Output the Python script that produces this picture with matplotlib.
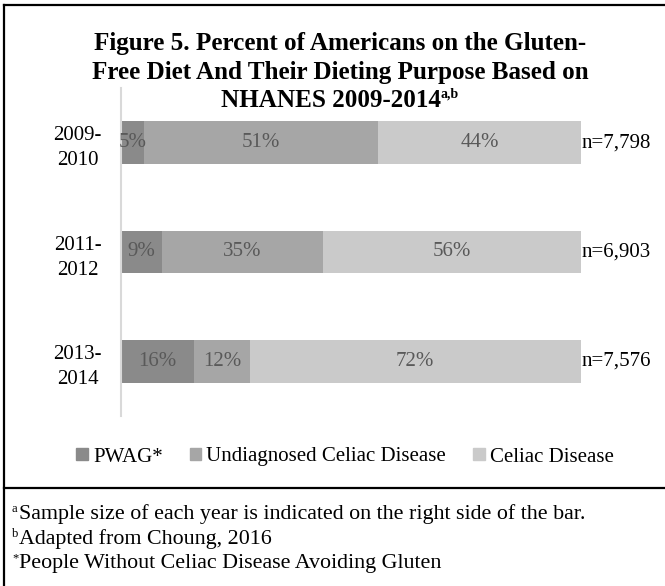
import numpy as np
import matplotlib as mpl
mpl.use('agg')
import matplotlib.pyplot as plt
from matplotlib.patches import Patch
from matplotlib.lines import Line2D

## data
years = ['2009-\n2010', '2011-\n2012', '2013-\n2014']
pwag = [5, 9, 16]
undiagnosed = [51, 35, 12]
celiac = [44, 56, 72]
sample_n = ['n=7,798', 'n=6,903', 'n=7,576']
series_names = ['PWAG*', 'Undiagnosed Celiac Disease', 'Celiac Disease']
colors = ['#8a8a8a', '#a6a6a6', '#cacaca']

title_lines = ['Figure 5. Percent of Americans on the Gluten-',
               'Free Diet And Their Dieting Purpose Based on',
               'NHANES 2009-2014']
title_sup = 'a,b'
notes = [('a', 'Sample size of each year is indicated on the right side of the bar.'),
         ('b', 'Adapted from Choung, 2016'),
         ('*', 'People Without Celiac Disease Avoiding Gluten')]

W, H = 665, 586
plt.rcParams['font.family'] = ['Liberation Serif', 'DejaVu Serif']

fig = plt.figure(figsize=(W / 100, H / 100), dpi=100)


def fx(px):
    return px / W


def fy(py):
    return 1 - py / H


ax = fig.add_axes([fx(120.7), fy(416), fx(580.7) - fx(120.7), fy(88) - fy(416)])

y = np.arange(len(years))
left = np.zeros(len(years))
for vals, name, c in zip([pwag, undiagnosed, celiac], series_names, colors):
    ax.barh(y, vals, left=left, height=0.39, color=c, label=name)
    for yi, l, v in zip(y, left, vals):
        ax.text(l + v / 2, yi, f'{v}%', ha='center', va='center',
                fontsize=15, color='#595959')
    left += np.array(vals)

for yi, tot, n in zip(y, left, sample_n):
    ax.text(tot + 0.2, yi, n, ha='left', va='center', fontsize=15)

ax.set_xlim(0, 100)
ax.set_ylim(2.5, -0.5)
ax.set_yticks(y)
ax.set_yticklabels(years, fontsize=15, multialignment='center', linespacing=1.45)
ax.tick_params(axis='y', length=0, pad=13.5)
ax.set_xticks([])
for s in ['top', 'right', 'bottom']:
    ax.spines[s].set_visible(False)
ax.spines['left'].set_color('#d9d9d9')
ax.spines['left'].set_linewidth(1.5)

# legend
handles = [Patch(color=c, label=n) for c, n in zip(colors, series_names)]
fig.legend(handles=handles, loc='center', bbox_to_anchor=(fx(345), fy(457)),
           ncol=3, frameon=False, fontsize=15, handlelength=0.55, handleheight=0.55,
           handletextpad=0.25, columnspacing=1.3, borderaxespad=0, borderpad=0)

# title
renderer = fig.canvas.get_renderer()
baselines = [50, 78.5, 107]
for line, b in zip(title_lines[:2], baselines[:2]):
    fig.text(fx(340), fy(b), line, ha='center', va='baseline',
             fontsize=18.1, fontweight='bold')
t3 = fig.text(0, fy(baselines[2]), title_lines[2], ha='left', va='baseline',
              fontsize=18.1, fontweight='bold')
s3 = fig.text(0, fy(baselines[2] - 9), title_sup, ha='left', va='baseline',
              fontsize=10, fontweight='bold')
w3 = t3.get_window_extent(renderer).width
ws = s3.get_window_extent(renderer).width
x0 = 340 - (w3 + ws) / 2
t3.set_x(fx(x0))
s3.set_x(fx(x0 + w3))

# footnotes
for (sup, txt), b in zip(notes, [519, 544, 568]):
    fig.text(fx(12), fy(b - 7), sup, ha='left', va='baseline', fontsize=9)
    fig.text(fx(19), fy(b), txt, ha='left', va='baseline', fontsize=15.8)

# frame lines
fig.add_artist(Line2D([fx(3.5), fx(3.5)], [fy(4.5), 0], color='black', lw=1.6))
fig.add_artist(Line2D([fx(3.5), 1], [fy(4.5), fy(4.5)], color='black', lw=1.6))
fig.add_artist(Line2D([fx(3.5), 1], [fy(488), fy(488)], color='black', lw=1.6))

fig.savefig('out.png', dpi=100)
